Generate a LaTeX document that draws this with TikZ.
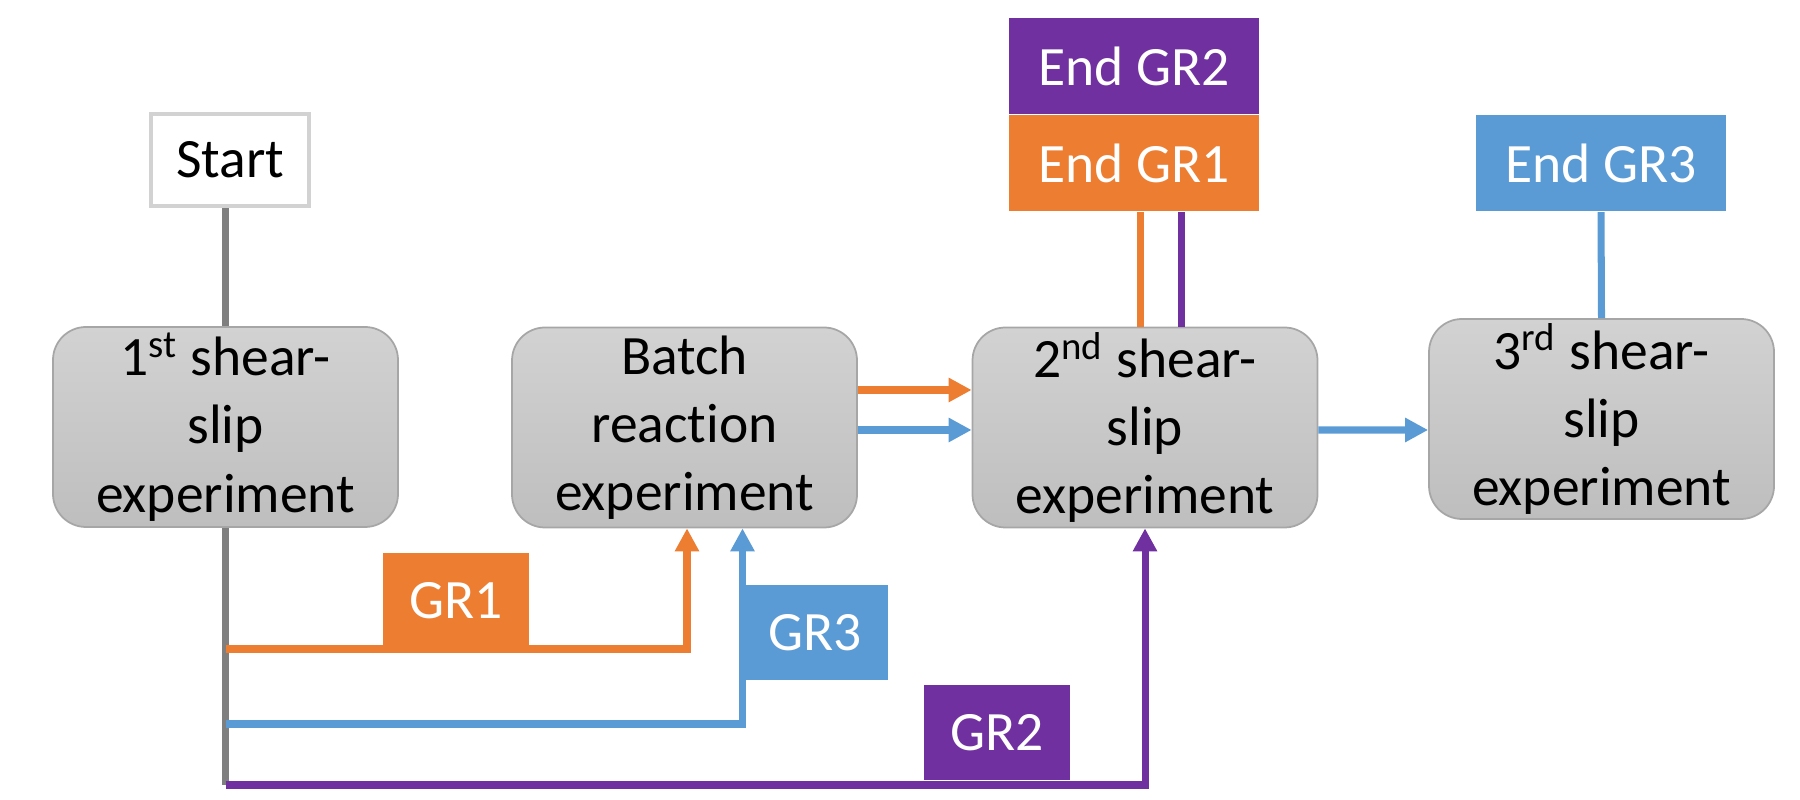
\documentclass[tikz,border=0pt]{standalone}
\usepackage{fontspec}
\setmainfont{Carlito}[Ligatures=CommonOff]
\usetikzlibrary{arrows.meta,positioning,calc}
\definecolor{grorange}{HTML}{ED7D31}
\definecolor{grblue}{HTML}{5B9BD5}
\definecolor{grpurple}{HTML}{7030A0}
\definecolor{boxtop}{HTML}{D2D2D2}
\definecolor{boxbot}{HTML}{BEBEBE}
\definecolor{boxline}{HTML}{A6A6A6}
\definecolor{trunkgray}{HTML}{7F7F7F}
\newcommand{\flowfont}{\fontsize{15.8}{19.4}\selectfont}
\tikzset{
  expbox/.style={draw=boxline, line width=0.5pt, rounded corners=3.3mm,
    top color=boxtop, bottom color=boxbot, minimum width=3.45cm,
    minimum height=2cm, align=center, inner sep=0pt, font=\flowfont},
  startbox/.style={draw=gray!35, line width=1pt, minimum width=1.58cm,
    minimum height=0.92cm, font=\flowfont},
  grbox/.style={fill=#1, text=white, minimum width=1.46cm,
    minimum height=0.95cm, inner sep=0pt, font=\flowfont},
  endbox/.style={fill=#1, text=white, minimum width=2.5cm,
    minimum height=0.96cm, inner sep=0pt, font=\flowfont},
  flow/.style={draw=#1, line width=2pt},
  flowarrow/.style={flow=#1, -{Triangle[length=2.3mm,width=2.3mm]}}
}
\begin{document}
\begin{tikzpicture}[x=0.1mm,y=-0.1mm]
    \useasboundingbox (0,0) rectangle (1800,800);
    \node[startbox] (start) at (230,160) {Start};
    \node[expbox] (shear1) at (225.5,427) {1\textsuperscript{st} shear-\\slip\\experiment};
    \node[expbox] (batch) at (684.5,427.5) {Batch\\reaction\\experiment};
    \node[expbox] (shear2) at (1145,427.5) {2\textsuperscript{nd} shear-\\slip\\experiment};
    \node[expbox] (shear3) at (1601.5,419) {3\textsuperscript{rd} shear-\\slip\\experiment};
    \node[endbox=grorange] (end1) at (1134,163.5) {End GR1};
    \node[endbox=grpurple, above=0pt of end1] (end2) {End GR2};
    \node[endbox=grblue] (end3) at (1601,163.5) {End GR3};

    \coordinate (splitA) at (225.5,649);
    \coordinate (splitB) at (225.5,724);
    \coordinate (splitC) at (225.5,785);
    \draw[flow=trunkgray] (shear1.north) -- (shear1.north |- start.south);
    \draw[flow=trunkgray] (shear1.south) -- (splitC);

    \draw[flowarrow=grorange] (splitA) -| ($(batch.south)+(2.5,0)$);
    \draw[flowarrow=grblue] (splitB) -| ($(batch.south)+(58,0)$);
    \draw[flowarrow=grpurple] (splitC) -| (shear2.south);
    \node[grbox=grorange] (gr1) at (456,600.5) {GR1};
    \node[grbox=grblue] (gr3) at (815,633) {GR3};
    \node[grbox=grpurple] (gr2) at (997,733) {GR2};

    \draw[flowarrow=grorange] ($(batch.east)+(0,-37.5)$) -- ($(shear2.west)+(0,-37.5)$);
    \draw[flowarrow=grblue] ($(batch.east)+(0,2.5)$) -- ($(shear2.west)+(0,2.5)$);
    \draw[flowarrow=grblue] ($(shear2.east)+(0,2.5)$) -- ($(shear3.west)+(0,11)$);

    \draw[flow=grorange] ($(shear2.north)+(-5,0)$) -- ($(end1.south)+(6,0)$);
    \draw[flow=grpurple] ($(shear2.north)+(36,0)$) -- ($(end1.south)+(47,0)$);
    \draw[flow=grblue] (end3.south) -- (shear3.north);
\end{tikzpicture}
\end{document}
